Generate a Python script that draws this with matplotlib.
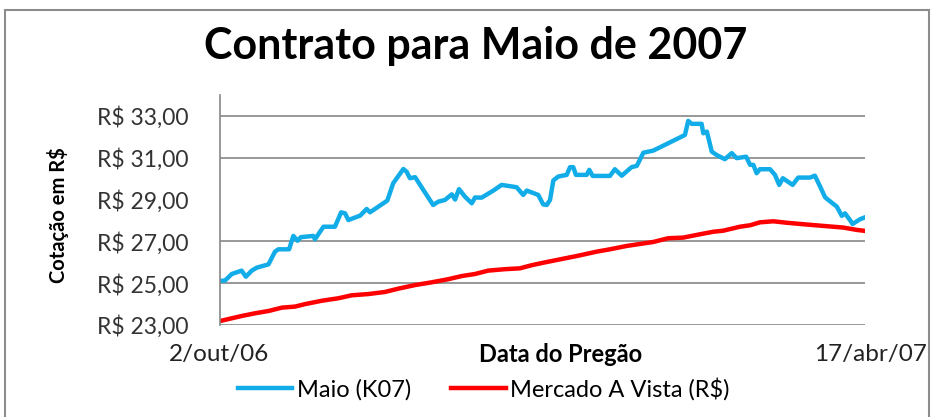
import matplotlib
matplotlib.use("Agg")
import matplotlib.pyplot as plt
from matplotlib.patches import Rectangle

# dias corridos desde 2/out/06
dias_maio = [0, 1.5, 3.6, 6.6, 7.9, 9.7, 11.2, 14.8, 16.8, 17.8, 21.1, 22.4, 23.7, 24.7,
             28.5, 29.0, 31.6, 35.1, 37.0, 38.2, 39.2, 42.8, 44.8, 45.8, 49.4, 51.1,
             52.9, 56.0, 57.0, 58.0, 59.6, 62.1, 65.1, 66.7, 68.7, 70.8, 71.8, 73.0,
             74.8, 76.9, 77.9, 79.9, 83.5, 86.0, 90.6, 92.6, 93.7, 97.2, 98.7, 99.8,
             100.8, 101.8, 103.3, 105.9, 106.9, 107.9, 108.7, 112.0, 112.8, 113.8,
             119.1, 120.6, 122.7, 125.7, 127.3, 129.3, 132.3, 134.4, 141.0, 142.0,
             143.0, 144.1, 147.1, 147.6, 148.7, 150.2, 151.7, 154.2, 156.3, 157.8,
             160.7, 161.9, 162.9, 163.9, 164.9, 168.0, 169.5, 170.8, 171.9, 174.9,
             176.6, 180.2, 181.7, 183.3, 184.8, 185.8, 188.4, 189.9, 190.9, 192.4,
             193.2, 195.5, 197.0]
maio = [25.12, 25.12, 25.44, 25.60, 25.31, 25.60, 25.74, 25.90, 26.51, 26.62, 26.62,
        27.26, 27.03, 27.20, 27.26, 27.10, 27.70, 27.70, 28.39, 28.34, 28.02, 28.23,
        28.55, 28.39, 28.77, 28.95, 29.78, 30.46, 30.33, 30.02, 30.07, 29.46, 28.74,
        28.90, 28.98, 29.25, 29.00, 29.50, 29.14, 28.82, 29.10, 29.09, 29.43, 29.70,
        29.59, 29.22, 29.43, 29.22, 28.77, 28.74, 28.98, 29.91, 30.10, 30.18, 30.55,
        30.55, 30.18, 30.18, 30.42, 30.13, 30.13, 30.45, 30.14, 30.55, 30.61, 31.24,
        31.34, 31.50, 32.01, 32.09, 32.76, 32.62, 32.62, 32.17, 32.25, 31.29, 31.13,
        30.93, 31.22, 30.98, 31.05, 30.66, 30.66, 30.26, 30.45, 30.45, 30.18, 29.70,
        30.02, 29.70, 30.05, 30.05, 30.14, 29.62, 29.11, 28.98, 28.66, 28.22, 28.34,
        28.02, 27.83, 28.06, 28.15]

dias_vista = [0, 6.6, 10.7, 14.8, 18.9, 22.9, 26.0, 31.1, 36.2, 40.2, 45.3, 50.4, 54.5,
              59.6, 64.6, 69.7, 73.8, 77.9, 81.9, 87.0, 91.6, 95.2, 98.8, 102.9, 109.0,
              115.1, 119.1, 124.2, 132.3, 136.9, 141.5, 146.6, 150.7, 153.7, 158.8,
              161.9, 164.9, 169.0, 173.1, 178.1, 184.2, 190.4, 194.4, 197.0]
vista = [23.19, 23.43, 23.56, 23.67, 23.83, 23.88, 24.00, 24.16, 24.28, 24.42, 24.48,
         24.58, 24.74, 24.91, 25.04, 25.19, 25.34, 25.44, 25.60, 25.67, 25.71, 25.86,
         25.98, 26.11, 26.30, 26.51, 26.62, 26.78, 26.97, 27.15, 27.18, 27.34, 27.46,
         27.51, 27.70, 27.77, 27.91, 27.96, 27.89, 27.82, 27.74, 27.66, 27.55, 27.50]

yticks = [23, 25, 27, 29, 31, 33]
ytick_labels = ["R$ 23,00", "R$ 25,00", "R$ 27,00", "R$ 29,00", "R$ 31,00", "R$ 33,00"]

plt.rcParams['font.family'] = ['Lato', 'DejaVu Sans']

fig = plt.figure(figsize=(9.38, 4.17), dpi=100)
W, H = 938, 417

# moldura externa do gráfico
fig.patches.append(Rectangle((5 / W, -0.1), 924 / W, 1.1 - 10 / H, transform=fig.transFigure,
                             fill=False, edgecolor="#8c8c8c", lw=1.5))

ax = fig.add_axes([220 / W, 1 - 325 / H, 645 / W, 230 / H])
ax.plot(dias_maio, maio, color="#12ADE8", lw=3.2, label="Maio (K07)", solid_joinstyle="round")
ax.plot(dias_vista, vista, color="#FF0000", lw=3.2, label="Mercado A Vista (R$)")

ax.set_xlim(0, 197)
ax.set_ylim(23, 34)
ax.set_yticks(yticks)
ax.set_yticklabels(ytick_labels, fontsize=16.5, color="#333333")
ax.tick_params(axis="y", length=0, pad=23)
ax.set_xticks([])
for y in yticks:
    if y != 29:
        ax.axhline(y, color="#868686", lw=1.2, zorder=0)
for s in ["top", "right", "bottom"]:
    ax.spines[s].set_visible(False)
ax.spines["left"].set_color("#868686")
ax.spines["left"].set_linewidth(1.2)

fig.text(476 / W, 1 - 46 / H, "Contrato para Maio de 2007", ha="center", va="center",
         fontsize=31, fontweight="bold")
fig.text(58 / W, 1 - 215 / H, "Cotação em R$", rotation=90, ha="center", va="center",
         fontsize=14.5, fontweight="bold")
fig.text(219 / W, 1 - 355 / H, "2/out/06", ha="center", va="center", fontsize=17.5, color="#222222")
fig.text(870 / W, 1 - 355 / H, "17/abr/07", ha="center", va="center", fontsize=17.5, color="#222222")
fig.text(561 / W, 1 - 355 / H, "Data do Pregão", ha="center", va="center", fontsize=17,
         fontweight="bold")

fig.legend(loc="center", bbox_to_anchor=(484 / W, 1 - 389 / H), ncol=2, frameon=False,
           fontsize=17, handlelength=2.3, handletextpad=0.2, columnspacing=1.7)

fig.savefig("out.png", dpi=100)
